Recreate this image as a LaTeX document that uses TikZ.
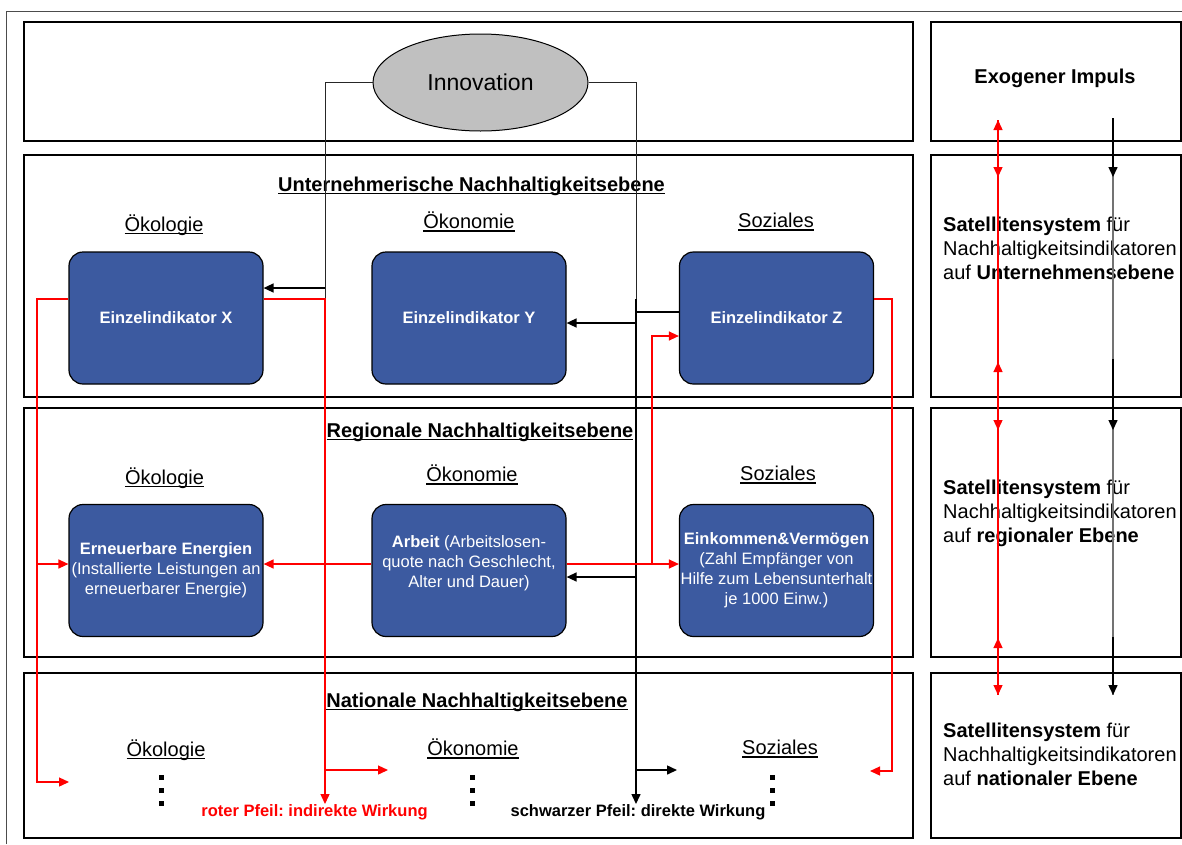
\documentclass[tikz,border=0pt]{standalone}
\usepackage{fontspec}
\setmainfont{Liberation Sans}
\usetikzlibrary{arrows.meta,shapes.geometric}
\frenchspacing

\definecolor{indblau}{HTML}{3C5AA0}
\definecolor{innograu}{HTML}{C0C0C0}
\newcommand{\ulin}[1]{\setbox0=\hbox{#1}\rlap{\rule[-3pt]{\wd0}{1.5pt}}\box0}

\tikzset{
  ebene/.style={draw, line width=2pt},
  indikator/.style={draw, line width=1.2pt, fill=indblau, rounded corners=14pt,
    minimum width=194pt, minimum height=132pt, inner sep=0pt, text=white,
    align=center, font=\fontsize{16.5}{20}\selectfont},
  innovation/.style={ellipse, draw, line width=1pt, fill=innograu,
    minimum width=215pt, minimum height=97pt, font=\fontsize{23}{27}\selectfont},
  titel/.style={inner sep=0pt, font=\fontsize{20}{24}\selectfont\bfseries},
  kopf/.style={inner sep=0pt},
  sat/.style={anchor=west, align=left, inner sep=0pt},
  legende/.style={inner sep=0pt, font=\fontsize{16.5}{20}\selectfont\bfseries},
  schwarz/.style={black, line width=1.5pt, ->},
  rot/.style={red, line width=1.3pt, ->},
}

\begin{document}
\begin{tikzpicture}[x=1pt, y=-1pt, font=\fontsize{20}{24}\selectfont,
    >={Triangle[length=10pt,width=9pt]}]
    \useasboundingbox (0,0) rectangle (1182,844);
    \draw[black!70, line width=1pt] (6,844) -- (6,11) -- (1182,11);

    % Ebenen
    \foreach \o/\u in {22/141,155/397,408/657,673/838} {
        \draw[ebene] (24,\o) rectangle (913,\u);
        \draw[ebene] (931,\o) rectangle (1181,\u);
    }

    \node[innovation] (innov) at (480.5,82.5) {Innovation};

    % Unternehmerische Ebene
    \node[titel] (titelU) at (471.5,186) {\ulin{Unternehmerische Nachhaltigkeitsebene}};
    \node[kopf] (oekoU) at (164,225) {\ulin{Ökologie}};
    \node[kopf] (oekonU) at (469,222) {\ulin{Ökonomie}};
    \node[kopf] (sozU) at (776,222) {\ulin{Soziales}};
    \node[indikator] (eiX) at (166,318) {\textbf{Einzelindikator X}};
    \node[indikator] (eiY) at (469,318) {\textbf{Einzelindikator Y}};
    \node[indikator] (eiZ) at (776.5,318) {\textbf{Einzelindikator Z}};

    % Regionale Ebene
    \node[titel] (titelR) at (480,432) {\ulin{Regionale Nachhaltigkeitsebene}};
    \node[kopf] (oekoR) at (164.5,478) {\ulin{Ökologie}};
    \node[kopf] (oekonR) at (472,475) {\ulin{Ökonomie}};
    \node[kopf] (sozR) at (778,475) {\ulin{Soziales}};
    \node[indikator] (erneuer) at (166,570.5)
        {\textbf{Erneuerbare Energien}\\(Installierte Leistungen an\\erneuerbarer Energie)};
    \node[indikator] (arbeit) at (469,570.5)
        {\textbf{Arbeit} (Arbeitslosen-\\quote nach Geschlecht,\\Alter und Dauer)\\[-3pt]\mbox{}};
    \node[indikator] (einkommen) at (776.5,570.5)
        {\textbf{Einkommen\&Vermögen}\\(Zahl Empfänger von\\Hilfe zum Lebensunterhalt\\je 1000 Einw.)};

    % Nationale Ebene
    \node[titel] (titelN) at (477,702) {\ulin{Nationale Nachhaltigkeitsebene}};
    \node[kopf] (oekoN) at (166,750) {\ulin{Ökologie}};
    \node[kopf] (oekonN) at (473,749) {\ulin{Ökonomie}};
    \node[kopf] (sozN) at (780,749) {\ulin{Soziales}};
    \foreach \x in {161,472,772}
        \foreach \y in {777,790,803}
            \fill (\x-2.5,\y-2.5) rectangle ++(5,5);
    \node[legende, text=red] (legRot) at (314.5,812) {roter Pfeil: indirekte Wirkung};
    \node[legende] (legSchwarz) at (638,812) {schwarzer Pfeil: direkte Wirkung};

    % rechte Spalte
    \node[titel] (exo) at (1055,78) {Exogener Impuls};
    \node[sat] (satU) at (943,248)
        {\textbf{Satellitensystem} für\\Nachhaltigkeitsindikatoren\\auf \textbf{Unternehmensebene}};
    \node[sat] (satR) at (943,513.5)
        {\textbf{Satellitensystem} für\\Nachhaltigkeitsindikatoren\\auf \textbf{regionaler Ebene}};
    \node[sat] (satN) at (943,754)
        {\textbf{Satellitensystem} für\\Nachhaltigkeitsindikatoren\\auf \textbf{nationaler Ebene}};

    \coordinate (kL) at (325,299);
    \coordinate (kA) at (37,299);
    \coordinate (kR) at (892,299);
    \coordinate (kE) at (652,564);
    \coordinate (nLinks) at (69,782);
    \coordinate (nRotD) at (325,804);
    \coordinate (nRotM) at (388,770);
    \coordinate (nSchwD) at (636,804);
    \coordinate (nSchwM) at (677,770);
    \coordinate (nRechts) at (870,771);
    \coordinate (rOben) at (998,120);
    \coordinate (rUnten) at (998,695);
    \coordinate (sOben) at (1113,118);
    \coordinate (sUnten) at (1113,695);

    % direkte Wirkung
    \draw[black!85, line width=1pt] (innov.west) -| (kL);
    \draw[schwarz] (kL |- 0,288) -- (eiX.east |- 0,288);
    \draw[black!85, line width=1pt] (innov.east) -| (nSchwD |- 0,299);
    \draw[schwarz] (nSchwD |- 0,299) -- (nSchwD);
    \draw[schwarz, -] (eiZ.west |- 0,312) -- (nSchwD |- 0,312);
    \draw[schwarz] (nSchwD |- 0,323) -- (eiY.east |- 0,323);
    \draw[schwarz] (nSchwD |- 0,577) -- (arbeit.east |- 0,577);
    \draw[schwarz] (nSchwD |- nSchwM) -- (nSchwM);

    % indirekte Wirkung
    \draw[rot] (eiX.east |- kL) -- (kL) -- (nRotD);
    \draw[rot] (kL |- nRotM) -- (nRotM);
    \draw[rot] (eiX.west |- kA) -- (kA) |- (nLinks);
    \draw[rot] (kA |- 0,564) -- (erneuer.west |- 0,564);
    \draw[rot] (arbeit.west |- 0,564) -- (erneuer.east |- 0,564);
    \draw[rot] (arbeit.east |- 0,564) -- (einkommen.west |- 0,564);
    \draw[rot] (kE) |- (eiZ.west |- 0,336);
    \draw[rot] (eiZ.east |- kR) -- (kR) |- (nRechts);

    % Impulse rechts
    \draw[rot, -] (rOben) -- (rUnten);
    \foreach \a/\b in {120/177,362/430,638/695}
        \draw[rot, <->] (rOben |- 0,\a) -- (rOben |- 0,\b);
    \draw[black!55, line width=1.8pt] (sOben) -- (sUnten);
    \foreach \a/\b in {118/177,359/430,637/695}
        \draw[schwarz] (sOben |- 0,\a) -- (sOben |- 0,\b);
\end{tikzpicture}
\end{document}
